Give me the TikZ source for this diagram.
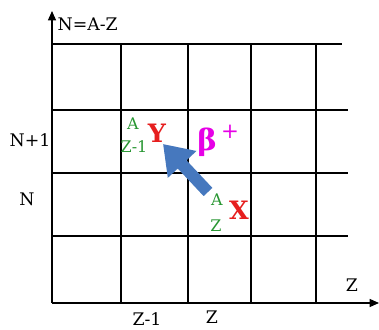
\documentclass[tikz,border=0pt]{standalone}
\usepackage{fontspec}
\setmainfont{DejaVu Serif}
\usepackage{tikz}
\usetikzlibrary{arrows.meta,positioning}
\definecolor{nucgreen}{RGB}{40,150,50}
\definecolor{nucred}{RGB}{230,30,30}
\definecolor{decaymag}{RGB}{230,0,230}
\definecolor{decayblue}{RGB}{70,120,190}
\tikzset{
  gridln/.style={line width=0.9pt, black},
  axisln/.style={-{Triangle[length=7pt,width=6pt]}, line width=0.9pt, black},
  axislabel/.style={font=\fontsize{13}{15}\selectfont, inner sep=1pt},
  supnum/.style={nucgreen, font=\fontsize{12}{13}\selectfont, inner sep=0pt},
  elem/.style={nucred, font=\fontsize{19}{21}\selectfont\bfseries, inner sep=0pt},
  decayarrow/.style={-{Triangle[length=21pt,width=28pt]}, line width=9pt, decayblue},
}
\begin{document}
\begin{tikzpicture}[x=0.75pt, y=0.75pt]
    \useasboundingbox (0,0) rectangle (379,329);
    % --- grid ---
    \foreach \gx in {121,188,251,316}
      \draw[gridln] (\gx,26) -- (\gx,285);
    \draw[gridln] (52,285) -- (342,285);
    \foreach \gy in {219,156,93}
      \draw[gridln] (52,\gy) -- (348,\gy);
    % --- axes ---
    \draw[axisln] (52,26) -- (52,318);
    \draw[axisln] (52,26) -- (379,26);
    \node[axislabel, anchor=west] (ntitle) at (56,305) {N=A-Z};
    \node[axislabel] (nplus) at (30,189) {N+1};
    \node[axislabel] (nrow) at (27,130) {N};
    \node[axislabel] (zminus) at (147,10) {Z-1};
    \node[axislabel] (zcol) at (212,12) {Z};
    \node[axislabel] (zaxis) at (352,44) {Z};
    % --- daughter nucleus ---
    \node[supnum] (ymass) at (133,205) {A};
    \node[supnum] (ycharge) at (134,182) {Z-1};
    \node[elem] (yname) at (157,196) {Y};
    % --- parent nucleus ---
    \node[supnum] (xmass) at (217,129) {A};
    \node[supnum] (xcharge) at (216,103) {Z};
    \node[elem] (xname) at (239,119) {X};
    % --- decay ---
    \node[decaymag, font=\fontsize{22}{24}\selectfont\bfseries, inner sep=0pt] (beta) at (207,187) {β};
    \node[decaymag, font=\fontsize{16}{18}\selectfont, inner sep=0pt] (plus) at (230,197) {+};
    \coordinate (tail) at (208,137);
    \coordinate (tip) at (163,185);
    \draw[decayarrow] (tail) -- (tip);
\end{tikzpicture}
\end{document}
